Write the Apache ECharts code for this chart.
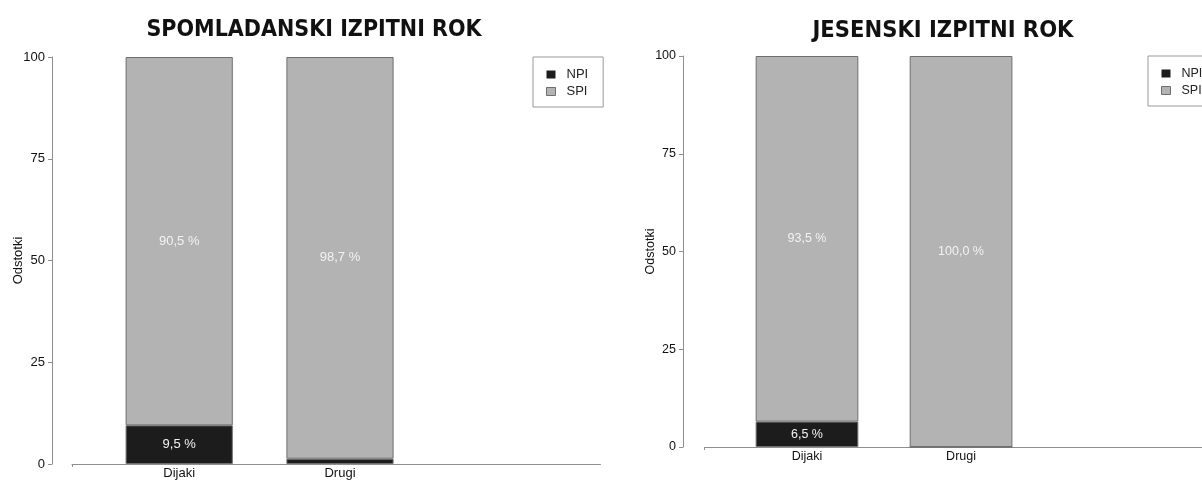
<!DOCTYPE html>
<html>
<head>
<meta charset="utf-8">
<script src="https://cdn.jsdelivr.net/npm/echarts@6/dist/echarts.min.js"></script>
<style>
html,body{margin:0;padding:0;background:#fff;}
#c{width:1202px;height:481px;}
</style>
</head>
<body>
<div id="c"></div>
<script>
// ---- data ----
const categories = ['Dijaki', 'Drugi'];
const seriesNames = ['NPI', 'SPI'];
const panelTitles = ['SPOMLADANSKI IZPITNI ROK', 'JESENSKI IZPITNI ROK'];
const yAxisName = 'Odstotki';
const springNPI = [9.5, 1.3];
const springSPI = [90.5, 98.7];
const autumnNPI = [6.5, 0.0];
const autumnSPI = [93.5, 100.0];

// ---- helpers ----
const fmt = v => v.toFixed(1).replace('.', ',') + ' %';

const FONT = '"Liberation Sans", Arial, sans-serif';
const TITLE_FONT = '"Liberation Sans Narrow", "DejaVu Sans Condensed", "Open Sans", sans-serif';
const colNPI = '#1c1c1c', colSPI = '#b3b3b3', axisCol = '#8f8f8f';

// layout of each panel: L = start of x-axis line, u = one bar width in px
const panels = [
  {L: 72, u: 107.2, top: 57, height: 407, yAxisX: 52, fs: 13, titleX: 309, titleFs: 23, legendLeft: 533, nameGap: 27},
  {L: 704.3, u: 102.7, top: 56, height: 391, yAxisX: 683, fs: 12.5, titleX: 938, titleFs: 23.5, legendLeft: 1148, nameGap: 26}
];
const npiSets = [springNPI, autumnNPI];
const spiSets = [springSPI, autumnSPI];

const option = {
  animation: false,
  backgroundColor: '#fff',
  title: panels.map((p, k) => ({
    text: panelTitles[k],
    left: p.titleX,
    top: 14,
    textAlign: 'center',
    textStyle: {fontFamily: TITLE_FONT, fontWeight: 'bold', fontSize: p.titleFs, color: '#111'}
  })),
  legend: panels.map((p, k) => ({
    data: [
      {name: seriesNames[0], itemStyle: {borderWidth: 0}},
      {name: seriesNames[1], itemStyle: {borderColor: '#6e6e6e', borderWidth: 1}}
    ],
    orient: 'vertical',
    left: p.legendLeft,
    top: p.top,
    padding: [11, 15, 9, 13],
    itemGap: 4,
    itemWidth: 9,
    itemHeight: 8,
    icon: 'rect',
    borderColor: '#999',
    borderWidth: 1,
    borderRadius: 0,
    selectedMode: false,
    textStyle: {fontFamily: FONT, fontSize: p.fs, color: '#222', padding: [0, 0, 0, 6]}
  })),
  grid: [],
  xAxis: [],
  yAxis: [],
  series: []
};

panels.forEach((p, k) => {
  const barLeft = p.L + 0.25 * p.u;
  const gBar = option.grid.length;
  // grid holding the bars (category bands of 1.5 bar widths)
  option.grid.push({left: barLeft, top: p.top, width: 3 * p.u, height: p.height});
  // grid holding only the long x-axis line
  option.grid.push({left: p.L, top: p.top, width: 4.93 * p.u, height: p.height});

  option.xAxis.push({
    type: 'category', gridIndex: gBar, data: categories,
    axisLine: {show: false}, axisTick: {show: false},
    axisLabel: {margin: 3, fontFamily: FONT, fontSize: p.fs, color: '#111'}
  });
  option.xAxis.push({
    type: 'value', gridIndex: gBar + 1, min: 0, max: 4.93,
    axisLine: {show: true, lineStyle: {color: axisCol, width: 1}},
    axisTick: {show: true, customValues: [0], length: 3, lineStyle: {color: axisCol}},
    axisLabel: {show: false}, splitLine: {show: false}
  });
  option.yAxis.push({
    type: 'value', gridIndex: gBar, min: 0, max: 100, interval: 25,
    offset: barLeft - p.yAxisX,
    name: yAxisName, nameLocation: 'middle', nameGap: p.nameGap,
    nameMoveOverlap: false,
    nameTextStyle: {fontFamily: FONT, fontSize: p.fs, color: '#111'},
    axisLine: {show: true, lineStyle: {color: axisCol, width: 1}},
    axisTick: {show: true, length: 4, lineStyle: {color: axisCol}},
    axisLabel: {margin: 7, fontFamily: FONT, fontSize: p.fs, color: '#111'},
    splitLine: {show: false}
  });
  option.yAxis.push({
    type: 'value', gridIndex: gBar + 1, min: 0, max: 100, show: false
  });

  const xi = option.xAxis.length - 2, yi = option.yAxis.length - 2;
  const mk = (name, arr, color) => ({
    name, type: 'bar', stack: 'p' + k, xAxisIndex: xi, yAxisIndex: yi,
    barWidth: p.u,
    data: arr,
    itemStyle: {color, borderColor: '#6e6e6e', borderWidth: 1},
    label: {
      show: true, position: 'inside', color: '#f2f2f2',
      fontFamily: FONT, fontSize: p.fs,
      formatter: prm => prm.value >= 5 ? fmt(prm.value) : ''
    },
    emphasis: {disabled: true}
  });
  option.series.push(mk(seriesNames[0], npiSets[k], colNPI));
  option.series.push(mk(seriesNames[1], spiSets[k], colSPI));
});

const chart = echarts.init(document.getElementById('c'), null, {renderer: 'canvas'});
chart.setOption(option);
</script>
</body>
</html>
